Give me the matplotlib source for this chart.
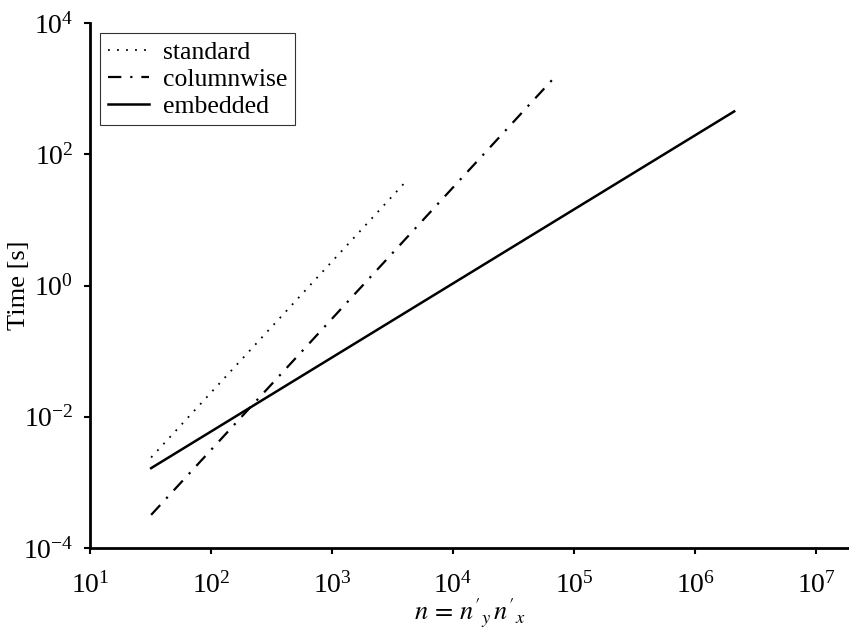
import matplotlib
matplotlib.use("Agg")
import matplotlib.pyplot as plt

plt.rcParams['font.family'] = ['Liberation Serif', 'DejaVu Serif']
plt.rcParams['mathtext.fontset'] = 'stix'

# values (problem size n, time in seconds)
n_standard = [32, 4096]
t_standard = [2.4e-3, 39]

n_columnwise = [32, 65536]
t_columnwise = [3.2e-4, 1350]

n_embedded = [32, 2097152]
t_embedded = [1.65e-3, 450]

fig = plt.figure(figsize=(8.49, 6.34), dpi=100)
ax = fig.add_axes([0.106, 0.1356, 0.894, 0.8281])

ax.loglog(n_standard, t_standard, color='black', linestyle=(0, (1, 4)), linewidth=1.3, label='standard')
ax.loglog(n_columnwise, t_columnwise, color='black', linestyle=(0, (6, 4, 1, 4)), linewidth=1.6, label='columnwise')
ax.loglog(n_embedded, t_embedded, color='black', linestyle='-', linewidth=1.8, label='embedded')

ax.set_xlim(10, 10**7.27)
ax.set_ylim(1e-4, 1e4)
ax.set_xticks([10**k for k in range(1, 8)])
ax.set_yticks([10**k for k in range(-4, 5, 2)])
ax.minorticks_off()
ax.tick_params(direction='out', length=4, width=1.5, labelsize=20)
ax.tick_params(axis='x', pad=13)
ax.tick_params(axis='y', pad=8)

ax.spines['top'].set_visible(False)
ax.spines['right'].set_visible(False)
ax.spines['left'].set_linewidth(2)
ax.spines['bottom'].set_linewidth(2)

ax.set_xlabel(r"$n\,=\,n'_{y}\,n'_{x}$", fontsize=19)
ax.xaxis.set_label_coords(0.5, -0.093)
ax.set_ylabel('Time [s]', fontsize=19)
ax.yaxis.set_label_coords(-0.079, 0.5)

leg = ax.legend(loc='upper left', fontsize=18.5, frameon=True, fancybox=False,
                edgecolor='black', borderaxespad=0.4, handlelength=1.6,
                labelspacing=0.15, borderpad=0.3, handletextpad=0.55)
leg.get_frame().set_linewidth(0.8)

fig.savefig('out.png', dpi=100)
